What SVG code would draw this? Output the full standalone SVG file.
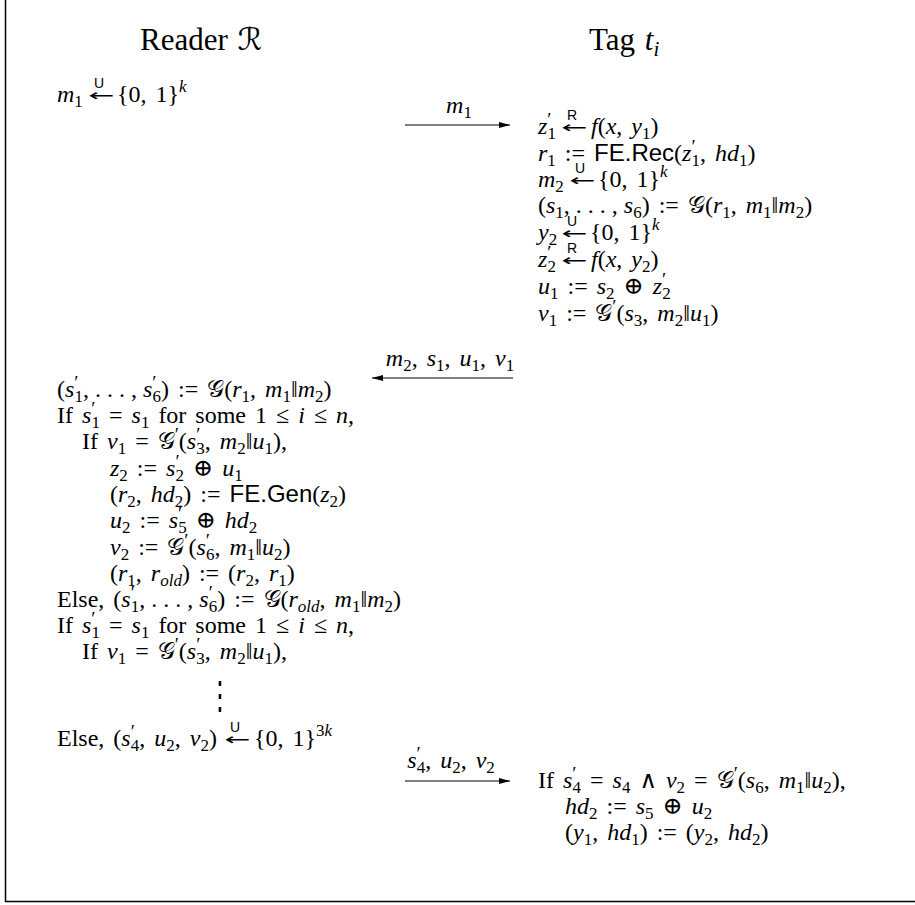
<svg xmlns="http://www.w3.org/2000/svg" width="915" height="905" viewBox="0 0 915 905">
<style>
text{font-family:"Liberation Serif","DejaVu Serif",serif;font-size:24px;fill:#000;word-spacing:3px}
.title{font-size:31px;word-spacing:2px}
.i{font-style:italic}
.s{font-size:17px}
.p{font-size:19px}
.d{word-spacing:0}
.sf{font-family:"Liberation Sans","DejaVu Sans",sans-serif}
.arw{font-family:"DejaVu Sans",sans-serif;font-size:16px;word-spacing:0}
.ov{font-family:"Liberation Sans","DejaVu Sans",sans-serif;font-size:14px;word-spacing:0}
.cal{font-family:"DejaVu Sans","DejaVu Serif",serif}
.frame{stroke:#000;stroke-width:1.5;fill:none}
.conn line{stroke:#000;stroke-width:1.2}
</style>
<defs>
<marker id="ah" markerWidth="11" markerHeight="8" refX="11" refY="4" orient="auto" markerUnits="userSpaceOnUse"><path d="M0,1 L11,4 L0,7 Z" fill="#000"/></marker>
</defs>
<g id="frame"><line class="frame" x1="5.5" y1="0" x2="5.5" y2="902"/><line class="frame" x1="5" y1="901.5" x2="915" y2="901.5"/></g>

<g id="reader-title"><text class="title" x="140" y="50">Reader <tspan class="cal">ℛ</tspan></text></g>
<g id="tag-title"><text class="title" x="589" y="50">Tag <tspan class="i">t</tspan><tspan class="i" font-size="21" dy="6">i</tspan></text></g>

<g id="reader-step1">
<text x="57" y="102"><tspan class="i">m</tspan><tspan class="s" dy="5">1</tspan><tspan x="117" dy="-5">{0, 1}</tspan><tspan class="s i" dy="-10">k</tspan></text>
<text class="arw" transform="translate(88,101) scale(1.95,1)">←</text>
<text class="ov" x="99" y="88" text-anchor="middle">U</text>
</g>

<g id="tag-step1">
<text x="538" y="134"><tspan class="i">z</tspan><tspan class="p" dy="-8">′</tspan><tspan class="s" dx="-4" dy="13">1</tspan><tspan class="i" x="591" dy="-5">f</tspan>(<tspan class="i">x</tspan>, <tspan class="i">y</tspan><tspan class="s" dy="5">1</tspan><tspan dy="-5">)</tspan></text>
<text class="arw" transform="translate(561,133) scale(1.95,1)">←</text>
<text class="ov" x="572" y="120" text-anchor="middle">R</text>
<text x="538" y="161"><tspan class="i">r</tspan><tspan class="s" dy="5">1</tspan><tspan dy="-5"> := </tspan><tspan class="sf">FE.Rec</tspan>(<tspan class="i">z</tspan><tspan class="p" dy="-8">′</tspan><tspan class="s" dx="-4" dy="13">1</tspan><tspan dy="-5">, </tspan><tspan class="i">hd</tspan><tspan class="s" dy="5">1</tspan><tspan dy="-5">)</tspan></text>
<text x="538" y="187"><tspan class="i">m</tspan><tspan class="s" dy="5">2</tspan><tspan x="598" dy="-5">{0, 1}</tspan><tspan class="s i" dy="-10">k</tspan></text>
<text class="arw" transform="translate(569,186) scale(1.95,1)">←</text>
<text class="ov" x="580" y="173" text-anchor="middle">U</text>
<text x="538" y="213">(<tspan class="i">s</tspan><tspan class="s" dy="5">1</tspan><tspan class="d" dy="-5">, . . . , </tspan><tspan class="i">s</tspan><tspan class="s" dy="5">6</tspan><tspan dy="-5">) := </tspan><tspan class="cal">𝒢</tspan>(<tspan class="i">r</tspan><tspan class="s" dy="5">1</tspan><tspan dy="-5">, </tspan><tspan class="i">m</tspan><tspan class="s" dy="5">1</tspan><tspan dy="-5">‖</tspan><tspan class="i">m</tspan><tspan class="s" dy="5">2</tspan><tspan dy="-5">)</tspan></text>
<text x="538" y="240"><tspan class="i">y</tspan><tspan class="s" dy="5">2</tspan><tspan x="590" dy="-5">{0, 1}</tspan><tspan class="s i" dy="-10">k</tspan></text>
<text class="arw" transform="translate(561,239) scale(1.95,1)">←</text>
<text class="ov" x="572" y="226" text-anchor="middle">U</text>
<text x="538" y="267"><tspan class="i">z</tspan><tspan class="p" dy="-8">′</tspan><tspan class="s" dx="-4" dy="13">2</tspan><tspan class="i" x="591" dy="-5">f</tspan>(<tspan class="i">x</tspan>, <tspan class="i">y</tspan><tspan class="s" dy="5">2</tspan><tspan dy="-5">)</tspan></text>
<text class="arw" transform="translate(561,266) scale(1.95,1)">←</text>
<text class="ov" x="572" y="253" text-anchor="middle">R</text>
<text x="538" y="294"><tspan class="i">u</tspan><tspan class="s" dy="5">1</tspan><tspan dy="-5"> := </tspan><tspan class="i">s</tspan><tspan class="s" dy="5">2</tspan><tspan dy="-5"> ⊕ </tspan><tspan class="i">z</tspan><tspan class="p" dy="-8">′</tspan><tspan class="s" dx="-4" dy="13">2</tspan></text>
<text x="538" y="321"><tspan class="i">v</tspan><tspan class="s" dy="5">1</tspan><tspan dy="-5"> := </tspan><tspan class="cal">𝒢</tspan><tspan class="p" dy="-8">′</tspan><tspan dy="8">(</tspan><tspan class="i">s</tspan><tspan class="s" dy="5">3</tspan><tspan dy="-5">, </tspan><tspan class="i">m</tspan><tspan class="s" dy="5">2</tspan><tspan dy="-5">‖</tspan><tspan class="i">u</tspan><tspan class="s" dy="5">1</tspan><tspan dy="-5">)</tspan></text>
</g>

<g id="reader-step2">
<text x="57" y="397">(<tspan class="i">s</tspan><tspan class="p" dy="-8">′</tspan><tspan class="s" dx="-4" dy="13">1</tspan><tspan class="d" dy="-5">, . . . , </tspan><tspan class="i">s</tspan><tspan class="p" dy="-8">′</tspan><tspan class="s" dx="-4" dy="13">6</tspan><tspan dy="-5">) := </tspan><tspan class="cal">𝒢</tspan>(<tspan class="i">r</tspan><tspan class="s" dy="5">1</tspan><tspan dy="-5">, </tspan><tspan class="i">m</tspan><tspan class="s" dy="5">1</tspan><tspan dy="-5">‖</tspan><tspan class="i">m</tspan><tspan class="s" dy="5">2</tspan><tspan dy="-5">)</tspan></text>
<text x="57" y="423">If <tspan class="i">s</tspan><tspan class="p" dy="-8">′</tspan><tspan class="s" dx="-4" dy="13">1</tspan><tspan dy="-5"> = </tspan><tspan class="i">s</tspan><tspan class="s" dy="5">1</tspan><tspan dy="-5"> for some 1 ≤ </tspan><tspan class="i">i</tspan> ≤ <tspan class="i">n</tspan>,</text>
<text x="82" y="449">If <tspan class="i">v</tspan><tspan class="s" dy="5">1</tspan><tspan dy="-5"> = </tspan><tspan class="cal">𝒢</tspan><tspan class="p" dy="-8">′</tspan><tspan dy="8">(</tspan><tspan class="i">s</tspan><tspan class="p" dy="-8">′</tspan><tspan class="s" dx="-4" dy="13">3</tspan><tspan dy="-5">, </tspan><tspan class="i">m</tspan><tspan class="s" dy="5">2</tspan><tspan dy="-5">‖</tspan><tspan class="i">u</tspan><tspan class="s" dy="5">1</tspan><tspan dy="-5">),</tspan></text>
<text x="110" y="476"><tspan class="i">z</tspan><tspan class="s" dy="5">2</tspan><tspan dy="-5"> := </tspan><tspan class="i">s</tspan><tspan class="p" dy="-8">′</tspan><tspan class="s" dx="-4" dy="13">2</tspan><tspan dy="-5"> ⊕ </tspan><tspan class="i">u</tspan><tspan class="s" dy="5">1</tspan></text>
<text x="110" y="502">(<tspan class="i">r</tspan><tspan class="s" dy="5">2</tspan><tspan dy="-5">, </tspan><tspan class="i">hd</tspan><tspan class="s" dy="5">2</tspan><tspan dy="-5">) := </tspan><tspan class="sf">FE.Gen</tspan>(<tspan class="i">z</tspan><tspan class="s" dy="5">2</tspan><tspan dy="-5">)</tspan></text>
<text x="110" y="528"><tspan class="i">u</tspan><tspan class="s" dy="5">2</tspan><tspan dy="-5"> := </tspan><tspan class="i">s</tspan><tspan class="p" dy="-8">′</tspan><tspan class="s" dx="-4" dy="13">5</tspan><tspan dy="-5"> ⊕ </tspan><tspan class="i">hd</tspan><tspan class="s" dy="5">2</tspan></text>
<text x="110" y="555"><tspan class="i">v</tspan><tspan class="s" dy="5">2</tspan><tspan dy="-5"> := </tspan><tspan class="cal">𝒢</tspan><tspan class="p" dy="-8">′</tspan><tspan dy="8">(</tspan><tspan class="i">s</tspan><tspan class="p" dy="-8">′</tspan><tspan class="s" dx="-4" dy="13">6</tspan><tspan dy="-5">, </tspan><tspan class="i">m</tspan><tspan class="s" dy="5">1</tspan><tspan dy="-5">‖</tspan><tspan class="i">u</tspan><tspan class="s" dy="5">2</tspan><tspan dy="-5">)</tspan></text>
<text x="110" y="581">(<tspan class="i">r</tspan><tspan class="s" dy="5">1</tspan><tspan dy="-5">, </tspan><tspan class="i">r</tspan><tspan class="s i" dy="5">old</tspan><tspan dy="-5">) := (</tspan><tspan class="i">r</tspan><tspan class="s" dy="5">2</tspan><tspan dy="-5">, </tspan><tspan class="i">r</tspan><tspan class="s" dy="5">1</tspan><tspan dy="-5">)</tspan></text>
<text x="57" y="607">Else, (<tspan class="i">s</tspan><tspan class="p" dy="-8">′</tspan><tspan class="s" dx="-4" dy="13">1</tspan><tspan class="d" dy="-5">, . . . , </tspan><tspan class="i">s</tspan><tspan class="p" dy="-8">′</tspan><tspan class="s" dx="-4" dy="13">6</tspan><tspan dy="-5">) := </tspan><tspan class="cal">𝒢</tspan>(<tspan class="i">r</tspan><tspan class="s i" dy="5">old</tspan><tspan dy="-5">, </tspan><tspan class="i">m</tspan><tspan class="s" dy="5">1</tspan><tspan dy="-5">‖</tspan><tspan class="i">m</tspan><tspan class="s" dy="5">2</tspan><tspan dy="-5">)</tspan></text>
<text x="57" y="633">If <tspan class="i">s</tspan><tspan class="p" dy="-8">′</tspan><tspan class="s" dx="-4" dy="13">1</tspan><tspan dy="-5"> = </tspan><tspan class="i">s</tspan><tspan class="s" dy="5">1</tspan><tspan dy="-5"> for some 1 ≤ </tspan><tspan class="i">i</tspan> ≤ <tspan class="i">n</tspan>,</text>
<text x="82" y="659">If <tspan class="i">v</tspan><tspan class="s" dy="5">1</tspan><tspan dy="-5"> = </tspan><tspan class="cal">𝒢</tspan><tspan class="p" dy="-8">′</tspan><tspan dy="8">(</tspan><tspan class="i">s</tspan><tspan class="p" dy="-8">′</tspan><tspan class="s" dx="-4" dy="13">3</tspan><tspan dy="-5">, </tspan><tspan class="i">m</tspan><tspan class="s" dy="5">2</tspan><tspan dy="-5">‖</tspan><tspan class="i">u</tspan><tspan class="s" dy="5">1</tspan><tspan dy="-5">),</tspan></text>
<text font-size="40" text-anchor="middle" transform="translate(220,709) scale(1,1.6)">⋮</text>
<text x="57" y="746">Else, (<tspan class="i">s</tspan><tspan class="p" dy="-8">′</tspan><tspan class="s" dx="-4" dy="13">4</tspan><tspan dy="-5">, </tspan><tspan class="i">u</tspan><tspan class="s" dy="5">2</tspan><tspan dy="-5">, </tspan><tspan class="i">v</tspan><tspan class="s" dy="5">2</tspan><tspan dy="-5">)</tspan><tspan x="254">{0, 1}</tspan><tspan class="s" dy="-10">3</tspan><tspan class="s i">k</tspan></text>
<text class="arw" transform="translate(224,745) scale(1.95,1)">←</text>
<text class="ov" x="235" y="732" text-anchor="middle">U</text>
</g>

<g id="tag-step2">
<text x="538" y="788">If <tspan class="i">s</tspan><tspan class="p" dy="-8">′</tspan><tspan class="s" dx="-4" dy="13">4</tspan><tspan dy="-5"> = </tspan><tspan class="i">s</tspan><tspan class="s" dy="5">4</tspan><tspan dy="-5"> ∧ </tspan><tspan class="i">v</tspan><tspan class="s" dy="5">2</tspan><tspan dy="-5"> = </tspan><tspan class="cal">𝒢</tspan><tspan class="p" dy="-8">′</tspan><tspan dy="8">(</tspan><tspan class="i">s</tspan><tspan class="s" dy="5">6</tspan><tspan dy="-5">, </tspan><tspan class="i">m</tspan><tspan class="s" dy="5">1</tspan><tspan dy="-5">‖</tspan><tspan class="i">u</tspan><tspan class="s" dy="5">2</tspan><tspan dy="-5">),</tspan></text>
<text x="565" y="814"><tspan class="i">hd</tspan><tspan class="s" dy="5">2</tspan><tspan dy="-5"> := </tspan><tspan class="i">s</tspan><tspan class="s" dy="5">5</tspan><tspan dy="-5"> ⊕ </tspan><tspan class="i">u</tspan><tspan class="s" dy="5">2</tspan></text>
<text x="565" y="840">(<tspan class="i">y</tspan><tspan class="s" dy="5">1</tspan><tspan dy="-5">, </tspan><tspan class="i">hd</tspan><tspan class="s" dy="5">1</tspan><tspan dy="-5">) := (</tspan><tspan class="i">y</tspan><tspan class="s" dy="5">2</tspan><tspan dy="-5">, </tspan><tspan class="i">hd</tspan><tspan class="s" dy="5">2</tspan><tspan dy="-5">)</tspan></text>
</g>

<g id="connectors" class="conn">
<line x1="405" y1="125" x2="510" y2="125" marker-end="url(#ah)"/>
<text x="459" y="113" text-anchor="middle"><tspan class="i">m</tspan><tspan class="s" dy="5">1</tspan></text>
<line x1="513" y1="378" x2="372" y2="378" marker-end="url(#ah)"/>
<text x="450" y="366" text-anchor="middle"><tspan class="i">m</tspan><tspan class="s" dy="5">2</tspan><tspan dy="-5">, </tspan><tspan class="i">s</tspan><tspan class="s" dy="5">1</tspan><tspan dy="-5">, </tspan><tspan class="i">u</tspan><tspan class="s" dy="5">1</tspan><tspan dy="-5">, </tspan><tspan class="i">v</tspan><tspan class="s" dy="5">1</tspan></text>
<line x1="405" y1="781" x2="510" y2="781" marker-end="url(#ah)"/>
<text x="451" y="768" text-anchor="middle"><tspan class="i">s</tspan><tspan class="p" dy="-8">′</tspan><tspan class="s" dx="-4" dy="13">4</tspan><tspan dy="-5">, </tspan><tspan class="i">u</tspan><tspan class="s" dy="5">2</tspan><tspan dy="-5">, </tspan><tspan class="i">v</tspan><tspan class="s" dy="5">2</tspan></text>
</g>
</svg>
